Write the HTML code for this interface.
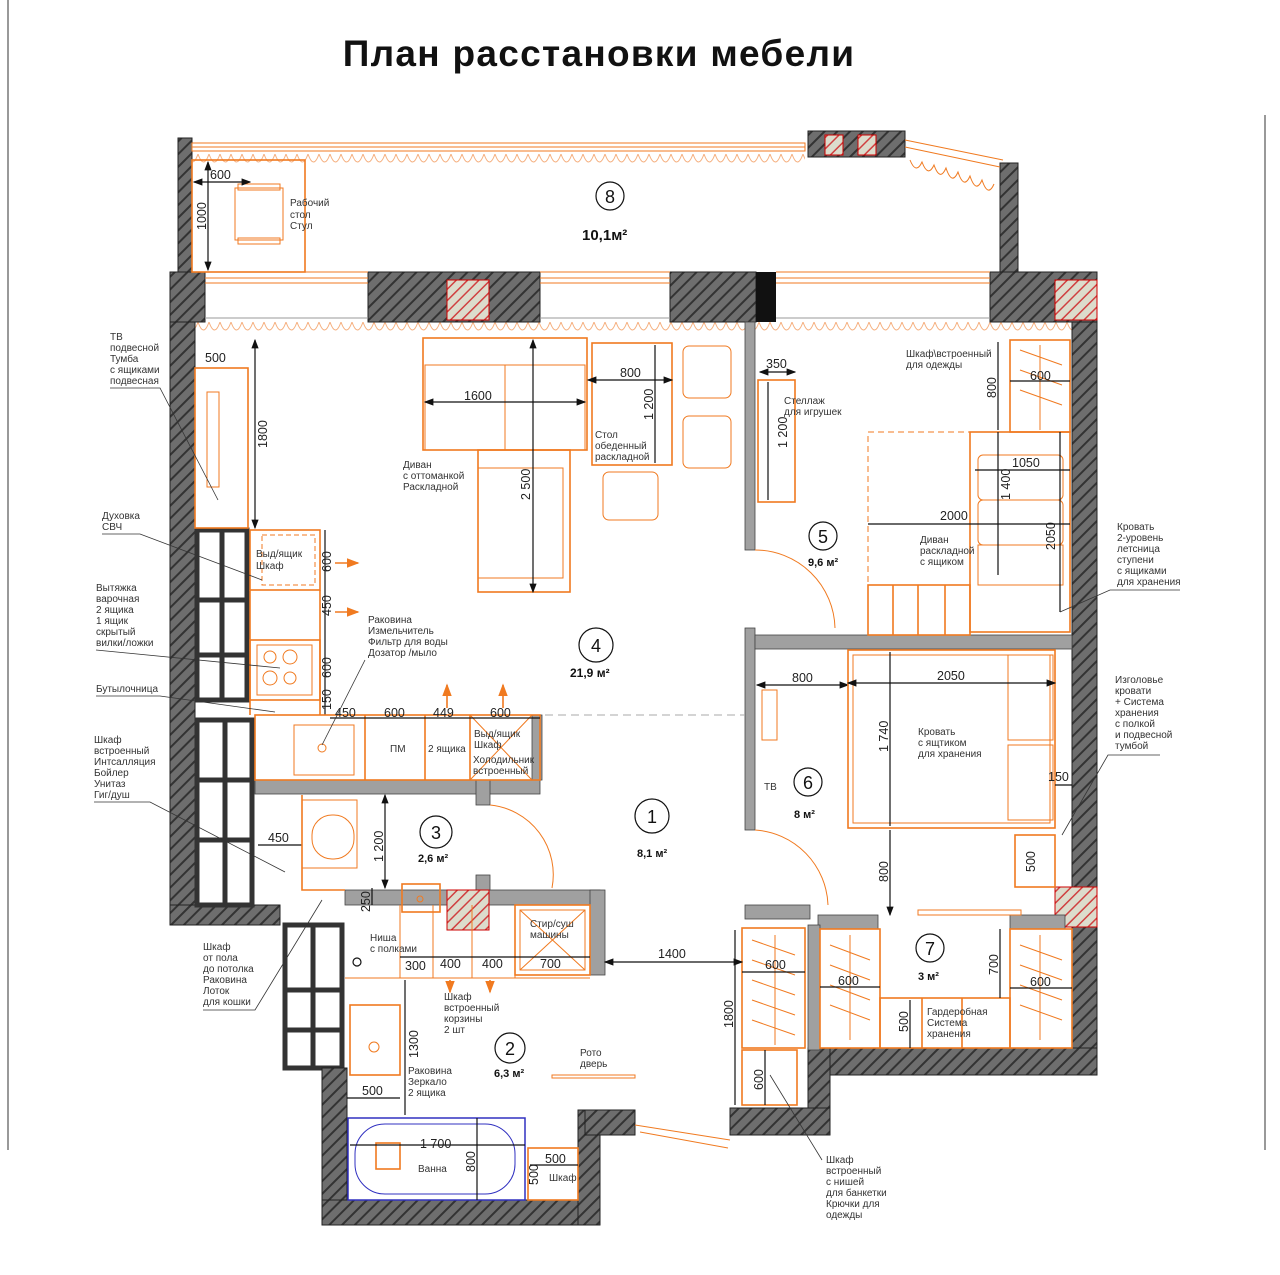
<!DOCTYPE html>
<html><head><meta charset="utf-8"><style>
html,body{margin:0;padding:0;background:#fff}
svg{display:block}
text{font-family:"Liberation Sans",sans-serif;fill:#333}
.s{font-size:10px}
.d{font-size:12.5px;fill:#222}
.o{fill:none;stroke:#f07a20;stroke-width:1.6}
.ot{fill:none;stroke:#f07a20;stroke-width:1}
.k{stroke:#111;stroke-width:1.2;fill:none}
.l{stroke:#333;stroke-width:.8;fill:none}
</style></head><body>
<svg width="1280" height="1275" viewBox="0 0 1280 1275" xmlns="http://www.w3.org/2000/svg">
<defs>
<pattern id="h" width="9" height="9" patternUnits="userSpaceOnUse" patternTransform="rotate(45)">
<rect width="9" height="9" fill="#6e6e6e"/><rect width="2" height="9" fill="#333"/></pattern>
<pattern id="c" width="8" height="8" patternUnits="userSpaceOnUse" patternTransform="rotate(45)">
<rect width="8" height="8" fill="#dcdccc"/><rect width="1.5" height="8" fill="#d04040"/></pattern>
<pattern id="w" width="22" height="14" patternUnits="userSpaceOnUse">
<path d="M0 0 Q5.5 16 11 0 Q16.5 16 22 0" fill="none" stroke="#f5b080" stroke-width="1"/></pattern>
<marker id="a" markerWidth="8" markerHeight="8" refX="7" refY="4" orient="auto"><path d="M0 1 L8 4 L0 7z" fill="#111"/></marker>
<marker id="b" markerWidth="8" markerHeight="8" refX="1" refY="4" orient="auto"><path d="M8 1 L0 4 L8 7z" fill="#111"/></marker>
<marker id="oa" markerWidth="8" markerHeight="8" refX="7" refY="4" orient="auto"><path d="M0 1 L8 4 L0 7z" fill="#f07a20"/></marker>
</defs>

<line x1="8" y1="0" x2="8" y2="1150" stroke="#333" stroke-width="1"/>
<line x1="1265" y1="115" x2="1265" y2="1150" stroke="#333" stroke-width="1"/>
<text x="599" y="66" text-anchor="middle" style="font-size:37px;font-weight:bold;fill:#111;letter-spacing:1.3px">План расстановки мебели</text>

<!-- balcony -->
<rect x="178" y="138" width="14" height="134" fill="url(#h)" stroke="#222"/>
<rect x="1000" y="163" width="18" height="109" fill="url(#h)" stroke="#222"/>
<rect x="192" y="143" width="613" height="8" class="ot"/>
<line x1="192" y1="147" x2="805" y2="147" class="ot"/>
<rect x="808" y="131" width="97" height="26" fill="url(#h)" stroke="#222"/>
<rect x="825" y="135" width="18" height="20" fill="url(#c)" stroke="#c00"/>
<rect x="858" y="135" width="18" height="20" fill="url(#c)" stroke="#c00"/>
<path d="M905 140 L1003 160 M905 147 L1000 167" class="ot"/>
<path d="M910 160 Q916 175 922 162 Q928 178 934 165 Q940 182 946 168 Q952 186 958 172 Q964 190 970 176 Q976 194 982 180 Q988 198 994 184" class="ot" stroke="#f5b080"/>
<rect x="192" y="152" width="613" height="14" fill="url(#w)"/>
<rect x="192" y="318" width="880" height="14" fill="url(#w)"/>
<!-- top wall -->
<rect x="170" y="272" width="35" height="50" fill="url(#h)" stroke="#222"/>
<rect x="368" y="272" width="172" height="50" fill="url(#h)" stroke="#222"/>
<rect x="447" y="280" width="42" height="40" fill="url(#c)" stroke="#c00"/>
<rect x="670" y="272" width="86" height="50" fill="url(#h)" stroke="#222"/>
<rect x="756" y="272" width="20" height="50" fill="#111"/>
<rect x="990" y="272" width="107" height="50" fill="url(#h)" stroke="#222"/>
<rect x="1055" y="280" width="42" height="40" fill="url(#c)" stroke="#c00"/>
<path d="M205 272H368M205 278H368M205 283H368 M540 272H670M540 278H670M540 283H670 M776 272H990M776 278H990M776 283H990" class="ot"/>
<path d="M205 318H368M540 318H670M776 318H990" stroke="#999" fill="none"/>
<!-- left wall -->
<rect x="170" y="322" width="25" height="603" fill="url(#h)" stroke="#222"/>
<rect x="170" y="905" width="110" height="20" fill="url(#h)" stroke="#222"/>
<!-- shafts -->
<g fill="#fff" stroke="#333" stroke-width="5">
<rect x="197" y="530" width="50" height="170"/><rect x="197" y="720" width="55" height="185"/><rect x="285" y="925" width="57" height="143"/>
</g>
<path d="M222 530V700M197 600H247M197 655H247 M225 720V905M197 780H252M197 840H252 M313 925V1068M285 990H342M285 1030H342" stroke="#333" stroke-width="5"/>
<!-- bathroom outer -->
<rect x="322" y="1068" width="25" height="157" fill="url(#h)" stroke="#222"/>
<rect x="322" y="1200" width="278" height="25" fill="url(#h)" stroke="#222"/>
<rect x="578" y="1110" width="22" height="115" fill="url(#h)" stroke="#222"/>
<rect x="585" y="1110" width="50" height="25" fill="url(#h)" stroke="#222"/>
<!-- right walls -->
<rect x="1072" y="322" width="25" height="753" fill="url(#h)" stroke="#222"/>
<rect x="808" y="1048" width="289" height="27" fill="url(#h)" stroke="#222"/>
<rect x="808" y="1048" width="22" height="87" fill="url(#h)" stroke="#222"/>
<rect x="730" y="1108" width="100" height="27" fill="url(#h)" stroke="#222"/>
<rect x="1055" y="887" width="42" height="40" fill="url(#c)" stroke="#c00"/>
<!-- interior walls -->
<g fill="#a0a0a0" stroke="#444" stroke-width=".8">
<rect x="255" y="780" width="285" height="14"/>
<rect x="532" y="715" width="10" height="65"/>
<rect x="476" y="780" width="14" height="25"/>
<rect x="345" y="890" width="255" height="15"/>
<rect x="476" y="875" width="14" height="15"/>
<rect x="590" y="890" width="15" height="85"/>
<rect x="745" y="322" width="10" height="228"/>
<rect x="745" y="628" width="10" height="202"/>
<rect x="755" y="635" width="317" height="14"/>
<rect x="745" y="905" width="65" height="14"/>
<rect x="818" y="915" width="60" height="14"/>
<rect x="1010" y="915" width="55" height="14"/>
<rect x="808" y="925" width="12" height="125"/>
</g>
<rect x="447" y="890" width="42" height="40" fill="url(#c)" stroke="#c00"/>

<!-- balcony desk -->
<rect x="192" y="160" width="113" height="112" class="o"/>
<rect x="235" y="188" width="48" height="52" class="ot"/><rect x="238" y="184" width="42" height="6" class="ot"/><rect x="238" y="238" width="42" height="6" class="ot"/>
<text x="290" y="206" class="s">Рабочий</text><text x="290" y="218" class="s">стол</text><text x="290" y="229" class="s">Стул</text>
<line x1="194" y1="182" x2="250" y2="182" class="k" marker-start="url(#b)" marker-end="url(#a)"/><text x="210" y="179" class="d">600</text>
<line x1="208" y1="162" x2="208" y2="270" class="k" marker-start="url(#b)" marker-end="url(#a)"/><text x="206" y="230" class="d" transform="rotate(-90 206 230)">1000</text>
<circle cx="610" cy="196" r="14" class="k"/><text x="610" y="203" text-anchor="middle" style="font-size:18px;fill:#111">8</text>
<text x="582" y="240" style="font-size:15px;font-weight:bold;fill:#111">10,1м²</text>

<!-- TV -->
<rect x="195" y="368" width="53" height="160" class="o"/><rect x="207" y="392" width="12" height="95" class="ot"/>
<text x="205" y="362" class="d">500</text>
<line x1="255" y1="340" x2="255" y2="528" class="k" marker-start="url(#b)" marker-end="url(#a)"/><text x="267" y="448" class="d" transform="rotate(-90 267 448)">1800</text>
<!-- kitchen -->
<rect x="250" y="530" width="70" height="60" class="o"/><rect x="262" y="535" width="53" height="50" class="ot" stroke-dasharray="5 3"/>
<text x="256" y="557" class="s">Выд/ящик</text><text x="256" y="569" class="s">Шкаф</text>
<rect x="250" y="640" width="70" height="60" class="o"/><rect x="257" y="645" width="55" height="50" class="ot"/>
<g class="ot"><circle cx="270" cy="657" r="6"/><circle cx="290" cy="657" r="7"/><circle cx="270" cy="678" r="7"/><circle cx="290" cy="678" r="6"/></g>
<path d="M250 590V715 M320 590V715" class="o"/>
<line x1="325" y1="530" x2="325" y2="715" class="k"/>
<text x="331" y="572" class="d" transform="rotate(-90 331 572)">600</text><text x="331" y="616" class="d" transform="rotate(-90 331 616)">450</text><text x="331" y="678" class="d" transform="rotate(-90 331 678)">600</text><text x="331" y="710" class="d" transform="rotate(-90 331 710)">150</text>
<line x1="335" y1="563" x2="358" y2="563" class="o" marker-end="url(#oa)"/><line x1="335" y1="612" x2="358" y2="612" class="o" marker-end="url(#oa)"/>
<rect x="255" y="715" width="285" height="65" class="o"/>
<rect x="294" y="725" width="60" height="50" class="ot"/><circle cx="322" cy="748" r="4" class="ot"/>
<path d="M365 715V780M425 715V780M470 715V780" class="o"/><path d="M470 715L532 780M532 715L470 780" class="ot"/>
<line x1="330" y1="718" x2="540" y2="718" class="k"/>
<text x="335" y="717" class="d">450</text><text x="384" y="717" class="d">600</text><text x="433" y="717" class="d">449</text><text x="490" y="717" class="d">600</text>
<text x="390" y="752" class="s">ПМ</text><text x="428" y="752" class="s">2 ящика</text>
<text x="474" y="737" class="s">Выд/ящик</text><text x="474" y="748" class="s">Шкаф</text><text x="473" y="763" class="s">Холодильник</text><text x="473" y="774" class="s">встроенный</text>
<line x1="447" y1="708" x2="447" y2="685" class="o" marker-end="url(#oa)"/><line x1="503" y1="708" x2="503" y2="685" class="o" marker-end="url(#oa)"/>
<text x="368" y="623" class="s">Раковина</text><text x="368" y="634" class="s">Измельчитель</text><text x="368" y="645" class="s">Фильтр для воды</text><text x="368" y="656" class="s">Дозатор /мыло</text>
<line x1="365" y1="660" x2="322" y2="745" class="l"/>

<!-- sofa -->
<rect x="423" y="338" width="164" height="112" class="o"/>
<rect x="425" y="365" width="80" height="85" class="ot"/><rect x="505" y="365" width="80" height="85" class="ot"/>
<rect x="478" y="450" width="92" height="142" class="o"/><rect x="478" y="468" width="85" height="110" class="ot"/>
<line x1="425" y1="402" x2="585" y2="402" class="k" marker-start="url(#b)" marker-end="url(#a)"/><text x="464" y="400" class="d">1600</text>
<line x1="533" y1="340" x2="533" y2="592" class="k" marker-start="url(#b)" marker-end="url(#a)"/><text x="530" y="500" class="d" transform="rotate(-90 530 500)">2 500</text>
<text x="403" y="468" class="s">Диван</text><text x="403" y="479" class="s">с оттоманкой</text><text x="403" y="490" class="s">Раскладной</text>
<rect x="592" y="343" width="80" height="122" class="o"/>
<line x1="588" y1="380" x2="672" y2="380" class="k" marker-start="url(#b)" marker-end="url(#a)"/><text x="620" y="377" class="d">800</text>
<line x1="655" y1="345" x2="655" y2="463" class="k"/><text x="653" y="420" class="d" transform="rotate(-90 653 420)">1 200</text>
<text x="595" y="438" class="s">Стол</text><text x="595" y="449" class="s">обеденный</text><text x="595" y="460" class="s">раскладной</text>
<rect x="683" y="346" width="48" height="52" rx="6" class="ot"/><rect x="683" y="416" width="48" height="52" rx="6" class="ot"/><rect x="603" y="472" width="55" height="48" rx="6" class="ot"/>
<circle cx="596" cy="645" r="17" class="k"/><text x="596" y="652" text-anchor="middle" style="font-size:18px;fill:#111">4</text>
<text x="570" y="677" style="font-size:12px;font-weight:bold;fill:#111">21,9 м²</text>
<line x1="545" y1="715" x2="745" y2="715" stroke="#aaa" stroke-dasharray="8 5"/>

<!-- room 5 -->
<rect x="758" y="380" width="37" height="122" class="o"/>
<line x1="760" y1="372" x2="795" y2="372" class="k" marker-start="url(#b)" marker-end="url(#a)"/><text x="766" y="368" class="d">350</text>
<line x1="768" y1="382" x2="768" y2="500" class="k"/><text x="787" y="448" class="d" transform="rotate(-90 787 448)">1 200</text>
<text x="784" y="404" class="s">Стеллаж</text><text x="784" y="415" class="s">для игрушек</text>
<path d="M755 550 A80 80 0 0 1 835 628" class="ot"/>
<circle cx="823" cy="536" r="14" class="k"/><text x="823" y="543" text-anchor="middle" style="font-size:18px;fill:#111">5</text>
<text x="808" y="566" style="font-size:11px;font-weight:bold;fill:#111">9,6 м²</text>
<rect x="1010" y="340" width="60" height="92" class="o"/>
<path d="M1020 350L1062 365M1020 370L1062 385M1020 390L1062 405M1040 345V430" class="ot"/>
<text x="906" y="357" class="s">Шкаф\встроенный</text><text x="906" y="368" class="s">для одежды</text>
<line x1="998" y1="342" x2="998" y2="430" class="k"/><text x="996" y="398" class="d" transform="rotate(-90 996 398)">800</text>
<line x1="1010" y1="381" x2="1070" y2="381" class="k"/><text x="1030" y="380" class="d">600</text>
<rect x="970" y="432" width="100" height="200" class="o"/><rect x="978" y="455" width="85" height="45" rx="5" class="ot"/><rect x="978" y="500" width="85" height="45" rx="5" class="ot"/><rect x="978" y="545" width="85" height="40" class="ot"/>
<line x1="975" y1="470" x2="1070" y2="470" class="k"/><text x="1012" y="467" class="d">1050</text>
<line x1="998" y1="432" x2="998" y2="575" class="k"/><text x="1010" y="500" class="d" transform="rotate(-90 1010 500)">1 400</text>
<line x1="1060" y1="432" x2="1060" y2="612" class="k"/><text x="1055" y="550" class="d" transform="rotate(-90 1055 550)">2050</text>
<rect x="868" y="432" width="102" height="153" class="ot" stroke-dasharray="6 4"/>
<line x1="868" y1="524" x2="1070" y2="524" class="k"/><text x="940" y="520" class="d">2000</text>
<text x="920" y="543" class="s">Диван</text><text x="920" y="554" class="s">раскладной</text><text x="920" y="565" class="s">с ящиком</text>
<rect x="868" y="585" width="102" height="50" class="o"/><path d="M893 585V635M918 585V635M945 585V635" class="o"/>
<text x="1117" y="530" class="s">Кровать</text><text x="1117" y="541" class="s">2-уровень</text><text x="1117" y="552" class="s">летсница</text><text x="1117" y="563" class="s">ступени</text><text x="1117" y="574" class="s">с ящиками</text><text x="1117" y="585" class="s">для хранения</text>
<path d="M1180 590H1110L1060 612" class="l"/>

<!-- room 6 -->
<rect x="762" y="690" width="15" height="50" class="ot"/><text x="764" y="790" class="s">ТВ</text>
<line x1="757" y1="685" x2="848" y2="685" class="k" marker-start="url(#b)" marker-end="url(#a)"/><text x="792" y="682" class="d">800</text>
<rect x="848" y="650" width="207" height="178" class="o"/><rect x="853" y="655" width="197" height="168" class="ot"/>
<rect x="1008" y="655" width="45" height="85" class="ot"/><rect x="1008" y="745" width="45" height="75" class="ot"/>
<line x1="848" y1="683" x2="1055" y2="683" class="k" marker-start="url(#b)" marker-end="url(#a)"/><text x="937" y="680" class="d">2050</text>
<line x1="890" y1="652" x2="890" y2="826" class="k"/><text x="888" y="752" class="d" transform="rotate(-90 888 752)">1 740</text>
<text x="918" y="735" class="s">Кровать</text><text x="918" y="746" class="s">с ящтиком</text><text x="918" y="757" class="s">для хранения</text>
<circle cx="808" cy="782" r="14" class="k"/><text x="808" y="789" text-anchor="middle" style="font-size:18px;fill:#111">6</text>
<text x="794" y="818" style="font-size:11px;font-weight:bold;fill:#111">8 м²</text>
<line x1="890" y1="830" x2="890" y2="915" class="k" marker-end="url(#a)"/><text x="888" y="882" class="d" transform="rotate(-90 888 882)">800</text>
<rect x="1015" y="835" width="40" height="52" class="o"/><text x="1035" y="872" class="d" transform="rotate(-90 1035 872)">500</text>
<line x1="1055" y1="785" x2="1072" y2="785" class="k"/><text x="1048" y="781" class="d">150</text>
<path d="M755 830 A78 78 0 0 1 828 905" class="ot"/>
<rect x="918" y="910" width="103" height="5" class="ot"/>
<text x="1115" y="683" class="s">Изголовье</text><text x="1115" y="694" class="s">кровати</text><text x="1115" y="705" class="s">+ Система</text><text x="1115" y="716" class="s">хранения</text><text x="1115" y="727" class="s">с полкой</text><text x="1115" y="738" class="s">и подвесной</text><text x="1115" y="749" class="s">тумбой</text>
<path d="M1160 755H1108L1062 835" class="l"/>

<!-- room 7 -->
<g class="ot"><path d="M830 945L870 960M830 965L870 980M830 985L870 1000M830 1005L870 1020M850 935V1040 M1020 945L1062 960M1020 965L1062 980M1020 985L1062 1000M1020 1005L1062 1020M1040 935V1040 M752 940L795 955M752 960L795 975M752 980L795 995M752 1000L795 1015M752 1020L795 1035M775 935V1045"/></g>
<rect x="820" y="929" width="60" height="119" class="o"/><rect x="1010" y="929" width="62" height="119" class="o"/>
<rect x="880" y="998" width="130" height="50" class="o"/><path d="M922 998V1048M962 998V1048" class="o"/>
<rect x="742" y="928" width="63" height="120" class="o"/><rect x="742" y="1050" width="55" height="55" class="o"/>
<line x1="820" y1="987" x2="880" y2="987" class="k"/><text x="838" y="985" class="d">600</text>
<line x1="1010" y1="988" x2="1072" y2="988" class="k"/><text x="1030" y="986" class="d">600</text>
<line x1="742" y1="972" x2="805" y2="972" class="k"/><text x="765" y="969" class="d">600</text>
<line x1="910" y1="1000" x2="910" y2="1048" class="k"/><text x="908" y="1032" class="d" transform="rotate(-90 908 1032)">500</text>
<line x1="1000" y1="929" x2="1000" y2="998" class="k"/><text x="998" y="975" class="d" transform="rotate(-90 998 975)">700</text>
<text x="927" y="1015" class="s">Гардеробная</text><text x="927" y="1026" class="s">Система</text><text x="927" y="1037" class="s">хранения</text>
<circle cx="930" cy="948" r="14" class="k"/><text x="930" y="955" text-anchor="middle" style="font-size:18px;fill:#111">7</text>
<text x="918" y="980" style="font-size:11px;font-weight:bold;fill:#111">3 м²</text>
<line x1="735" y1="930" x2="735" y2="1105" class="k"/><text x="733" y="1028" class="d" transform="rotate(-90 733 1028)">1800</text>
<line x1="765" y1="1050" x2="765" y2="1105" class="k"/><text x="763" y="1090" class="d" transform="rotate(-90 763 1090)">600</text>
<line x1="605" y1="962" x2="742" y2="962" class="k" marker-start="url(#b)" marker-end="url(#a)"/><text x="658" y="958" class="d">1400</text>
<text x="826" y="1163" class="s">Шкаф</text><text x="826" y="1174" class="s">встроенный</text><text x="826" y="1185" class="s">с нишей</text><text x="826" y="1196" class="s">для банкетки</text><text x="826" y="1207" class="s">Крючки для</text><text x="826" y="1218" class="s">одежды</text>
<line x1="822" y1="1160" x2="770" y2="1075" class="l"/>
<path d="M635 1125L730 1140 M640 1132L728 1148" class="ot"/>

<!-- room 1 -->
<circle cx="652" cy="816" r="17" class="k"/><text x="652" y="823" text-anchor="middle" style="font-size:18px;fill:#111">1</text>
<text x="637" y="857" style="font-size:11px;font-weight:bold;fill:#111">8,1 м²</text>
<path d="M490 805 A70 70 0 0 1 552 888" class="ot"/>

<!-- room 3 -->
<rect x="302" y="800" width="55" height="68" class="ot"/><rect x="312" y="815" width="42" height="44" rx="20" class="ot"/>
<line x1="258" y1="845" x2="302" y2="845" class="k"/><text x="268" y="842" class="d">450</text>
<path d="M302 795V890H345" class="o"/>
<line x1="385" y1="795" x2="385" y2="888" class="k" marker-start="url(#b)" marker-end="url(#a)"/><text x="383" y="862" class="d" transform="rotate(-90 383 862)">1 200</text>
<rect x="402" y="884" width="38" height="28" class="o"/><circle cx="420" cy="899" r="3" class="ot"/>
<line x1="372" y1="888" x2="372" y2="905" class="k"/><text x="370" y="912" class="d" transform="rotate(-90 370 912)">250</text>
<circle cx="436" cy="832" r="16" class="k"/><text x="436" y="839" text-anchor="middle" style="font-size:18px;fill:#111">3</text>
<text x="418" y="862" style="font-size:11px;font-weight:bold;fill:#111">2,6 м²</text>
<rect x="515" y="905" width="75" height="70" class="o"/><rect x="520" y="910" width="65" height="60" class="ot"/><path d="M520 910L585 970M585 910L520 970" class="ot"/>
<text x="530" y="927" class="s">Стир/суш</text><text x="530" y="938" class="s">машины</text>
<!-- room 2 -->
<path d="M345 978H590 M400 905V978M433 905V978M472 905V978M515 905V978" class="ot"/>
<line x1="400" y1="957" x2="590" y2="957" class="k"/>
<text x="405" y="970" class="d">300</text><text x="440" y="968" class="d">400</text><text x="482" y="968" class="d">400</text><text x="540" y="968" class="d">700</text>
<text x="370" y="941" class="s">Ниша</text><text x="370" y="952" class="s">с полками</text>
<circle cx="357" cy="962" r="4" class="k"/>
<line x1="450" y1="980" x2="450" y2="992" class="o" marker-end="url(#oa)"/><line x1="490" y1="980" x2="490" y2="992" class="o" marker-end="url(#oa)"/>
<text x="444" y="1000" class="s">Шкаф</text><text x="444" y="1011" class="s">встроенный</text><text x="444" y="1022" class="s">корзины</text><text x="444" y="1033" class="s">2 шт</text>
<rect x="350" y="1005" width="50" height="70" class="o"/><circle cx="374" cy="1047" r="5" class="ot"/>
<line x1="347" y1="1098" x2="400" y2="1098" class="k"/><text x="362" y="1095" class="d">500</text>
<line x1="405" y1="980" x2="405" y2="1115" class="k"/><text x="418" y="1058" class="d" transform="rotate(-90 418 1058)">1300</text>
<text x="408" y="1074" class="s">Раковина</text><text x="408" y="1085" class="s">Зеркало</text><text x="408" y="1096" class="s">2 ящика</text>
<circle cx="510" cy="1048" r="15" class="k"/><text x="510" y="1055" text-anchor="middle" style="font-size:18px;fill:#111">2</text>
<text x="494" y="1077" style="font-size:11px;font-weight:bold;fill:#111">6,3 м²</text>
<text x="580" y="1056" class="s">Рото</text><text x="580" y="1067" class="s">дверь</text>
<rect x="552" y="1075" width="83" height="3" class="ot"/>
<rect x="348" y="1118" width="177" height="82" fill="none" stroke="#3030c0" stroke-width="1.5"/>
<rect x="355" y="1124" width="160" height="70" rx="30" fill="none" stroke="#3030c0" stroke-width="1"/>
<rect x="376" y="1143" width="24" height="26" class="o"/>
<line x1="350" y1="1145" x2="525" y2="1145" class="k"/><text x="420" y="1148" class="d">1 700</text>
<line x1="477" y1="1118" x2="477" y2="1200" class="k"/><text x="475" y="1172" class="d" transform="rotate(-90 475 1172)">800</text>
<text x="418" y="1172" class="s">Ванна</text>
<rect x="528" y="1148" width="50" height="52" class="o"/>
<line x1="530" y1="1165" x2="578" y2="1165" class="k"/><text x="545" y="1163" class="d">500</text>
<text x="538" y="1185" class="d" transform="rotate(-90 538 1185)">500</text><text x="549" y="1181" class="s">Шкаф</text>

<!-- left annotations -->
<g class="s">
<text x="110" y="340">ТВ</text><text x="110" y="351">подвесной</text><text x="110" y="362">Тумба</text><text x="110" y="373">с ящиками</text><text x="110" y="384">подвесная</text>
<text x="102" y="519">Духовка</text><text x="102" y="530">СВЧ</text>
<text x="96" y="591">Вытяжка</text><text x="96" y="602">варочная</text><text x="96" y="613">2 ящика</text><text x="96" y="624">1 ящик</text><text x="96" y="635">скрытый</text><text x="96" y="646">вилки/ложки</text>
<text x="96" y="692">Бутылочница</text>
<text x="94" y="743">Шкаф</text><text x="94" y="754">встроенный</text><text x="94" y="765">Интсалляция</text><text x="94" y="776">Бойлер</text><text x="94" y="787">Унитаз</text><text x="94" y="798">Гиг/душ</text>
<text x="203" y="950">Шкаф</text><text x="203" y="961">от пола</text><text x="203" y="972">до потолка</text><text x="203" y="983">Раковина</text><text x="203" y="994">Лоток</text><text x="203" y="1005">для кошки</text>
</g>
<path d="M110 388H160L218 500 M102 534H140L262 580 M96 650L280 668 M96 696H160L275 712 M94 802H150L285 872 M203 1010H255L322 900" class="l"/>
</svg>
</body></html>
